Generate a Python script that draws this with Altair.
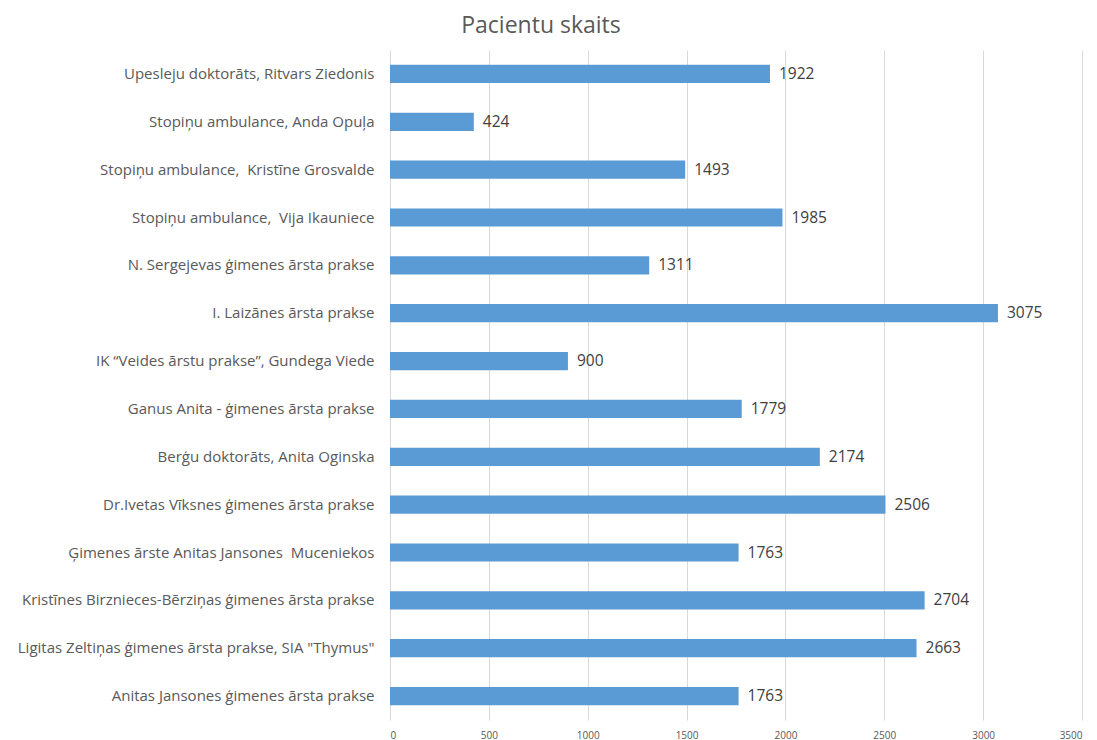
import altair as alt
import pandas as pd

NB = "\u00a0"
categories = [
    "Upesleju doktorāts, Ritvars Ziedonis",
    "Stopiņu ambulance, Anda Opuļa",
    "Stopiņu ambulance," + NB + " Kristīne Grosvalde",
    "Stopiņu ambulance," + NB + " Vija Ikauniece",
    "N. Sergejevas ģimenes ārsta prakse",
    "I. Laizānes ārsta prakse",
    "IK \u201cVeides ārstu prakse\u201d, Gundega Viede",
    "Ganus Anita - ģimenes ārsta prakse",
    "Berģu doktorāts, Anita Oginska",
    "Dr.Ivetas Vīksnes ģimenes ārsta prakse" + NB,
    "Ģimenes ārste Anitas Jansones" + NB + " Muceniekos",
    "Kristīnes Birznieces-Bērziņas ģimenes ārsta prakse",
    "Ligitas Zeltiņas ģimenes ārsta prakse, SIA \"Thymus\"",
    "Anitas Jansones ģimenes ārsta prakse",
]
values = [1922, 424, 1493, 1985, 1311, 3075, 900, 1779, 2174, 2506, 1763, 2704, 2663, 1763]
x_ticks = [0, 500, 1000, 1500, 2000, 2500, 3000, 3500]

df = pd.DataFrame({"cat": categories, "val": values})

FONT = "Open Sans"

y = alt.Y("cat:N", sort=categories, title=None,
          scale=alt.Scale(paddingInner=0.62, paddingOuter=0.31),
          axis=alt.Axis(labelFontSize=15, labelColor="#595959", labelFont=FONT,
                        ticks=False, domain=False, labelPadding=16, labelLimit=400))
x = alt.X("val:Q", title=None, scale=alt.Scale(domain=[0, 3500], nice=False),
          axis=alt.Axis(values=x_ticks, grid=True, gridColor="#d9d9d9", ticks=False,
                        domain=False, labelFontSize=10, labelColor="#595959", format="d",
                        labelFont=FONT, labelPadding=10))

bars = alt.Chart(df).mark_bar(color="#5B9BD5").encode(x=x, y=y)
labels = alt.Chart(df).mark_text(align="left", baseline="middle", dx=9, fontSize=15.5,
                                 color="#404040", font=FONT).encode(
    x="val:Q", y=alt.Y("cat:N", sort=categories), text="val:Q")

chart = (bars + labels).properties(
    width=692, height=670,
    autosize=alt.AutoSizeParams(type="none"),
    padding={"left": 382, "top": 42, "right": 7, "bottom": 20},
    title=alt.TitleParams("Pacientu skaits", fontSize=23, font=FONT, color="#595959",
                          fontWeight="normal", anchor="middle", dx=-195, offset=12),
).configure_view(stroke=None)

chart.save("out.html", embed_options={"renderer": "svg", "actions": False})
